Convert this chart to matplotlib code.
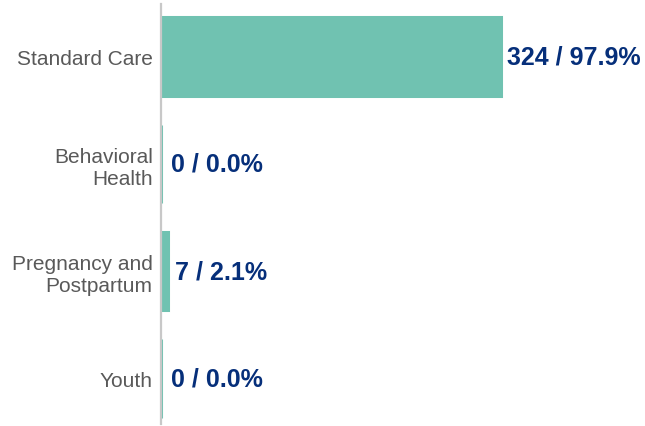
import matplotlib
matplotlib.use("Agg")
import matplotlib.pyplot as plt

categories = ["Standard Care", "Behavioral\nHealth", "Pregnancy and\nPostpartum", "Youth"]
counts = [324, 0, 7, 0]
percents = [97.9, 0.0, 2.1, 0.0]

plt.rcParams['font.family'] = ['Liberation Sans', 'DejaVu Sans']

fig = plt.figure(figsize=(6.45, 4.27), dpi=100)
ax = fig.add_axes([161/645, 2/427, 1 - 161/645, 420/427])

bar_color = "#70C2B1"
y = list(range(len(categories)))
ax.barh(y, counts, height=0.73, color=bar_color, edgecolor=bar_color, linewidth=2.2,
        zorder=1)

ax.set_xlim(0, 461)
ax.set_ylim(3.425, -0.49)
ax.set_yticks(y)
ax.set_yticklabels(categories, fontsize=15, color="#595959", linespacing=1.2)
ax.tick_params(axis='y', length=0, pad=6)
ax.set_xticks([])

for s in ["top", "right", "bottom"]:
    ax.spines[s].set_visible(False)
ax.spines["left"].set_color("#c8c8c8")
ax.spines["left"].set_linewidth(1.6)
ax.spines["left"].set_zorder(3)

for yi, c, p in zip(y, counts, percents):
    ax.annotate(f"{c} / {p:.1f}%", xy=(c, yi), xytext=(4.5 if c > 0 else 7.5, 0),
                textcoords="offset points", va="center", ha="left",
                fontsize=18, fontweight="bold", color="#062F7A")

fig.savefig("out.png", dpi=100)
